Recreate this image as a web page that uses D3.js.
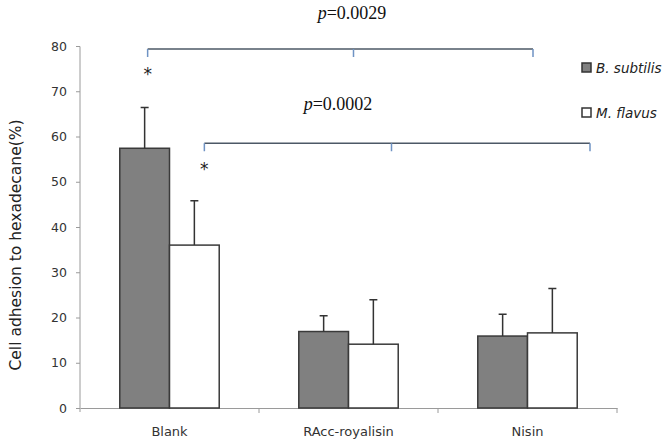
<!DOCTYPE html>
<html lang="en">
<head>
  <meta charset="UTF-8">
  <title>Cell adhesion to hexadecane</title>
  <script src="https://d3js.org/d3.v7.min.js"></script>
  <style>
    body { margin: 0; background: #fff; }
    text { font-family: "DejaVu Sans", Verdana, sans-serif; }
  </style>
</head>
<body>
<script>
// data
var categories = ["Blank", "RAcc-royalisin", "Nisin"];
var seriesNames = ["B. subtilis", "M. flavus"];
var subtilis = [57.4, 16.9, 15.9];
var subtilisErr = [9.0, 3.5, 4.8];
var flavus = [36.0, 14.1, 16.6];
var flavusErr = [9.8, 9.8, 9.8];
var yTicks = [0, 10, 20, 30, 40, 50, 60, 70, 80];

var width = 672, height = 447;
var margin = {top: 46, right: 55, bottom: 39, left: 80};

var svg = d3.select("body").append("svg")
    .attr("width", width)
    .attr("height", height);

var g = svg.append("g").attr("transform", "translate(" + margin.left + "," + margin.top + ")");
var w = 617 - margin.left, h = 408 - margin.top;

var x = d3.scaleBand().domain(categories).range([0, w]);
var xs = d3.scaleBand().domain(seriesNames).range([0, x.bandwidth()]).paddingOuter(0.8);
var y = d3.scaleLinear().domain([0, 80]).range([h, 0]);

var colors = {"B. subtilis": "#808080", "M. flavus": "#ffffff"};

var rows = categories.map(function(c, i) {
  return [
    {cat: c, s: "B. subtilis", v: subtilis[i], e: subtilisErr[i]},
    {cat: c, s: "M. flavus", v: flavus[i], e: flavusErr[i]}
  ];
});

// axes
var yAxis = d3.axisLeft(y).tickValues(yTicks).tickSize(4).tickPadding(9);
g.append("g").call(function(a) {
  a.call(yAxis);
  a.select(".domain").attr("stroke", "#9a9a9a").attr("d", "M0," + (h + 4) + "V0.5H-4");
  a.selectAll(".tick line").attr("stroke", "#9a9a9a");
  a.selectAll(".tick text").attr("fill", "#333").style("font-size", "12.5px");
});

var xAxis = d3.axisBottom(x).tickSize(0).tickPadding(19);
g.append("g").attr("transform", "translate(0," + h + ")").call(function(a) {
  a.call(xAxis);
  a.select(".domain").attr("stroke", "#9a9a9a");
  a.selectAll(".tick text").attr("fill", "#333").style("font-size", "13px");
  // boundary ticks between categories
  a.selectAll(".sep").data(categories).enter().append("line")
    .attr("x1", function(d) { return x(d) + x.bandwidth(); })
    .attr("x2", function(d) { return x(d) + x.bandwidth(); })
    .attr("y1", 0).attr("y2", 5)
    .attr("stroke", "#9a9a9a");
});

// bars
var grp = g.selectAll(".grp").data(rows).enter().append("g")
    .attr("transform", function(d) { return "translate(" + x(d[0].cat) + ",0)"; });

grp.selectAll("rect").data(function(d) { return d; }).enter().append("rect")
    .attr("x", function(d) { return xs(d.s); })
    .attr("y", function(d) { return y(d.v); })
    .attr("width", xs.bandwidth())
    .attr("height", function(d) { return h - y(d.v); })
    .attr("fill", function(d) { return colors[d.s]; })
    .attr("stroke", "#3a3a3a")
    .attr("stroke-width", 1.5);

// error bars
grp.selectAll(".err").data(function(d) { return d; }).enter().append("path")
    .attr("class", "err")
    .attr("fill", "none")
    .attr("stroke", "#333")
    .attr("stroke-width", 1.5)
    .attr("d", function(d) {
      var cx = xs(d.s) + xs.bandwidth() / 2;
      return "M" + cx + "," + y(d.v) + "V" + y(d.v + d.e) + "M" + (cx - 4) + "," + y(d.v + d.e) + "H" + (cx + 4);
    });

// significance brackets
function bracket(x1, xm, x2, yy, label, lx, ly) {
  g.append("path").attr("fill", "none").attr("stroke", "#4d5866").attr("stroke-width", 1.5)
    .attr("d", "M" + x1 + "," + yy + "H" + x2);
  g.append("path").attr("fill", "none").attr("stroke", "#6f93c4").attr("stroke-width", 1.5)
    .attr("d", "M" + x1 + "," + yy + "v8M" + xm + "," + yy + "v8M" + x2 + "," + yy + "v8");
  var t = g.append("text").attr("x", lx).attr("y", ly).attr("text-anchor", "middle")
    .style("font-family", "'Liberation Serif', 'Times New Roman', serif").style("font-size", "18px").attr("fill", "#111");
  t.append("tspan").style("font-style", "italic").text("p");
  t.append("tspan").text(label);
}
var bx = function(c, s) { return x(c) + xs(s) + xs.bandwidth() / 2; };
bracket(bx("Blank", "B. subtilis") + 3, x("RAcc-royalisin") + x.bandwidth() / 2 + 5, x("Nisin") + 95, y(80) + 3,
        "=0.0029", 352 - margin.left, 19 - margin.top);
bracket(bx("Blank", "M. flavus") + 10, x("RAcc-royalisin") + x.bandwidth() / 2 + 43, x("Nisin") + x.bandwidth() - 27, y(58.5),
        "=0.0002", 338 - margin.left, 110 - margin.top);

// stars
g.append("text").attr("x", bx("Blank", "B. subtilis") + 3).attr("y", y(74.2) + 8).attr("text-anchor", "middle")
  .style("font-size", "17px").attr("fill", "#222").text("*");
g.append("text").attr("x", bx("Blank", "M. flavus") + 10).attr("y", y(53.3) + 8).attr("text-anchor", "middle")
  .style("font-size", "17px").attr("fill", "#222").text("*");

// legend
var leg = svg.append("g").attr("transform", "translate(582,63)");
leg.selectAll("g").data(seriesNames).enter().append("g")
  .attr("transform", function(d, i) { return "translate(0," + i * 45 + ")"; })
  .each(function(d) {
    var s = d3.select(this);
    s.append("rect").attr("width", 9).attr("height", 9).attr("fill", colors[d])
      .attr("stroke", "#333").attr("stroke-width", 1.5);
    s.append("text").attr("x", 14).attr("y", 10).style("font-size", "13.5px")
      .style("font-style", "italic").attr("fill", "#222").text(d);
  });

// y title
svg.append("text")
  .attr("transform", "translate(21,245) rotate(-90)")
  .attr("text-anchor", "middle")
  .style("font-size", "15.5px")
  .attr("fill", "#222")
  .text("Cell adhesion to hexadecane(%)");
</script>
</body>
</html>
